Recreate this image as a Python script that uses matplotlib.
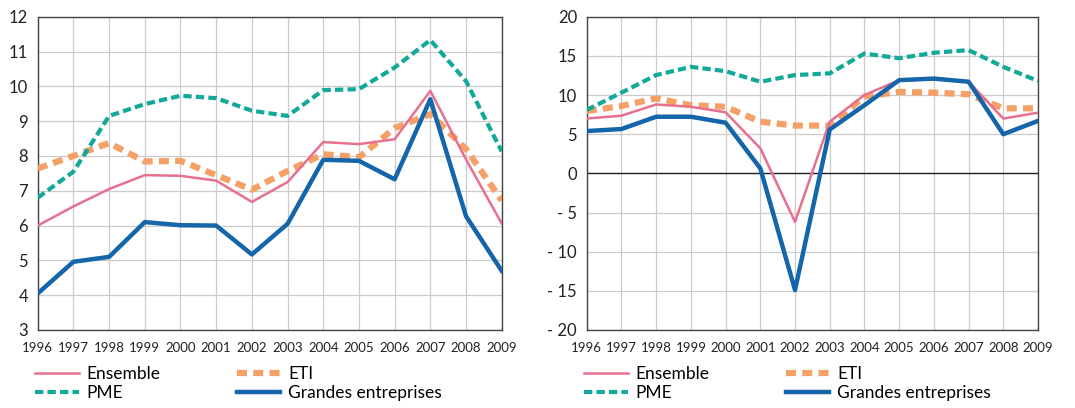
import numpy as np
import matplotlib
matplotlib.use('Agg')
import matplotlib.pyplot as plt

plt.rcParams['font.family'] = ['Lato', 'DejaVu Sans']

years = list(range(1996, 2010))

# left panel
ens_l = [6.0, 6.55, 7.05, 7.45, 7.43, 7.29, 6.68, 7.25, 8.4, 8.34, 8.48, 9.87, 7.9, 6.06]
eti_l = [7.64, 8.0, 8.37, 7.84, 7.86, 7.45, 7.03, 7.57, 8.05, 7.96, 8.8, 9.2, 8.2, 6.72]
pme_l = [6.8, 7.55, 9.15, 9.49, 9.73, 9.66, 9.3, 9.15, 9.89, 9.92, 10.54, 11.33, 10.15, 8.13]
ge_l = [4.05, 4.96, 5.1, 6.1, 6.01, 6.0, 5.17, 6.05, 7.89, 7.86, 7.33, 9.63, 6.27, 4.7]

# right panel
ens_r = [7.0, 7.36, 8.8, 8.5, 7.8, 3.2, -6.2, 6.6, 10.0, 11.9, 12.0, 11.7, 7.0, 7.75]
eti_r = [7.96, 8.6, 9.57, 8.7, 8.5, 6.6, 6.1, 6.1, 9.8, 10.4, 10.3, 10.1, 8.3, 8.3]
pme_r = [8.1, 10.3, 12.55, 13.6, 13.05, 11.7, 12.55, 12.77, 15.3, 14.7, 15.4, 15.74, 13.6, 11.8]
ge_r = [5.4, 5.66, 7.23, 7.23, 6.47, 0.64, -14.9, 5.6, 8.7, 11.9, 12.1, 11.7, 5.0, 6.7]

c_ens = '#E8708F'
c_eti = '#F4A066'
c_pme = '#12A89A'
c_ge = '#1565AB'
txt = '#222222'

fig = plt.figure(figsize=(10.75, 4.08), dpi=100)
ax1 = fig.add_axes([0.0351, 0.1912, 0.4316, 0.7678])
ax2 = fig.add_axes([0.5458, 0.1912, 0.4198, 0.7678])


def draw(ax, ens, eti, pme, ge):
    ax.plot(years, eti, color=c_eti, lw=4.5, dashes=(1.6, 1.0), label='ETI', zorder=3)
    ax.plot(years, pme, color=c_pme, lw=3.0, dashes=(2.0, 1.0), label='PME', zorder=3)
    ax.plot(years, ens, color=c_ens, lw=1.8, label='Ensemble', zorder=4)
    ax.plot(years, ge, color=c_ge, lw=3.2, label='Grandes entreprises', zorder=5)
    ax.set_xlim(1996, 2009)
    ax.set_xticks(years)
    ax.set_xticklabels([str(y) for y in years], fontsize=9.5, color=txt)
    ax.grid(True, color='#cccccc', lw=0.9)
    ax.set_axisbelow(True)
    for s in ax.spines.values():
        s.set_color('#444444')
        s.set_linewidth(1.0)
    ax.tick_params(length=0)
    ax.tick_params(axis='x', pad=9)
    ax.tick_params(axis='y', labelsize=12, labelcolor=txt, pad=7)
    h, l = ax.get_legend_handles_labels()
    # ncol=2 fills column by column
    order = [l.index(n) for n in ['Ensemble', 'PME', 'ETI', 'Grandes entreprises']]
    ax.legend([h[i] for i in order], [l[i] for i in order], ncol=2, loc='upper left',
              bbox_to_anchor=(-0.005, -0.115), frameon=False, fontsize=12.5,
              handlelength=2.5, handletextpad=0.45, columnspacing=4.4,
              labelspacing=0.2, borderaxespad=0, borderpad=0)


draw(ax1, ens_l, eti_l, pme_l, ge_l)
ax1.set_ylim(3, 12)
ax1.set_yticks(range(3, 13))

draw(ax2, ens_r, eti_r, pme_r, ge_r)
ax2.set_ylim(-20, 20)
ax2.set_yticks(range(-20, 21, 5))
ax2.set_yticklabels([('- %d' % -v) if v < 0 else str(v) for v in range(-20, 21, 5)])
ax2.axhline(0, color='#222222', lw=1.0, zorder=2)

fig.savefig('out.png', dpi=100)
